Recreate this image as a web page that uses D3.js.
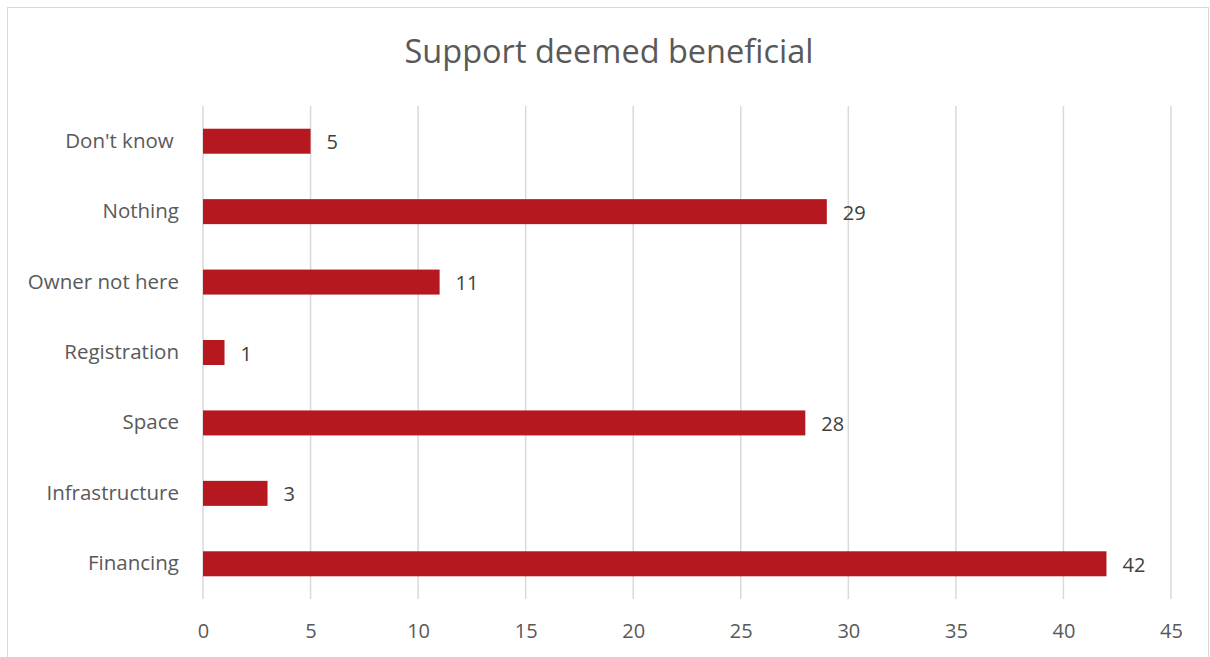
<!DOCTYPE html>
<html>
<head>
<meta charset="utf-8">
<script src="https://cdn.jsdelivr.net/npm/d3@7"></script>
<style>
  body { margin: 0; background: #fff; }
  text { font-family: "Open Sans", "Noto Sans", sans-serif; white-space: pre; }
</style>
</head>
<body>
<div id="chart"></div>
<script>
// chart data
const categories = ["Don't know ", "Nothing", "Owner not here", "Registration", "Space", "Infrastructure", "Financing"];
const counts = [5, 29, 11, 1, 28, 3, 42];
const xTicks = [0, 5, 10, 15, 20, 25, 30, 35, 40, 45];
const title = "Support deemed beneficial";

const W = 1210, H = 657;
const margin = { top: 106, right: 39, bottom: 58, left: 203 };
const width = W - margin.left - margin.right;
const height = H - margin.top - margin.bottom;

const svg = d3.select("#chart").append("svg")
    .attr("width", W)
    .attr("height", H);

// outer chart border
svg.append("rect")
    .attr("x", 7.5).attr("y", 7.5)
    .attr("width", 1201).attr("height", H)
    .attr("fill", "#fff")
    .attr("stroke", "#d9d9d9");

// title
svg.append("text")
    .attr("x", 609).attr("y", 63)
    .attr("text-anchor", "middle")
    .attr("font-size", "32.5px")
    .attr("fill", "#595959")
    .text(title);

const g = svg.append("g").attr("transform", `translate(${margin.left},${margin.top})`);

const x = d3.scaleLinear().domain([0, 45]).range([0, width]);
const y = d3.scaleBand().domain(categories).range([0, height]).paddingInner(0.645).paddingOuter(0.3225);

// vertical gridlines
g.selectAll(".grid")
    .data(xTicks)
    .join("line")
    .attr("class", "grid")
    .attr("x1", d => x(d)).attr("x2", d => x(d))
    .attr("y1", 0).attr("y2", height)
    .attr("stroke", "#d9d9d9")
    .attr("stroke-width", 1.5);

// x axis labels
const xAxis = d3.axisBottom(x).tickValues(xTicks).tickSize(0).tickPadding(25);
g.append("g")
    .attr("transform", `translate(0,${height})`)
    .call(xAxis)
    .call(a => a.select(".domain").remove())
    .selectAll("text")
    .attr("font-size", "20px")
    .attr("fill", "#595959")
    .attr("font-family", "Open Sans, sans-serif");

// y axis labels
const yAxis = d3.axisLeft(y).tickSize(0).tickPadding(24);
g.append("g")
    .call(yAxis)
    .call(a => a.select(".domain").remove())
    .selectAll("text")
    .attr("font-size", "20.5px")
    .attr("fill", "#595959")
    .attr("font-family", "Open Sans, sans-serif");

// bars
g.selectAll(".bar")
    .data(categories)
    .join("rect")
    .attr("class", "bar")
    .attr("x", x(0))
    .attr("y", d => y(d))
    .attr("width", (d, i) => x(counts[i]) - x(0))
    .attr("height", y.bandwidth())
    .attr("fill", "#b5181f");

// value labels
g.selectAll(".value")
    .data(categories)
    .join("text")
    .attr("class", "value")
    .attr("x", (d, i) => x(counts[i]) + 16)
    .attr("y", d => y(d) + y.bandwidth() / 2)
    .attr("dy", "0.4em")
    .attr("font-size", "20px")
    .attr("fill", "#404040")
    .text((d, i) => counts[i]);
</script>
</body>
</html>
